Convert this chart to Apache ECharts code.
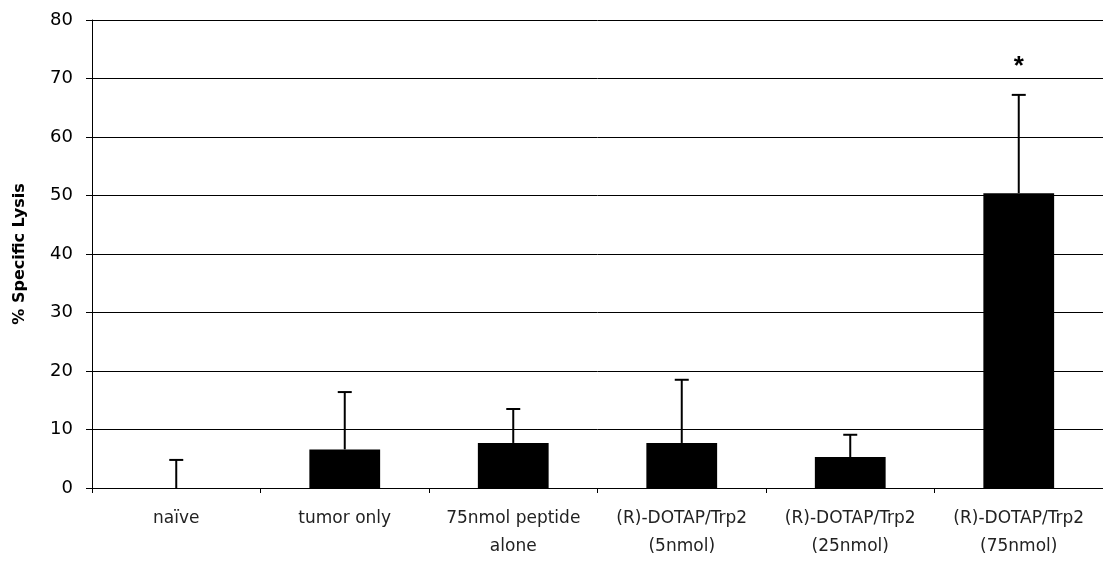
<!DOCTYPE html>
<html>
<head>
<meta charset="utf-8">
<script src="https://cdn.jsdelivr.net/npm/echarts@6/dist/echarts.min.js"></script>
<style>
html,body{margin:0;padding:0;background:#fff}
#chart{width:1103px;height:561px}
</style>
</head>
<body>
<div id="chart"></div>
<script>
var categories = ['naïve', 'tumor only', '75nmol peptide\nalone', '(R)-DOTAP/Trp2\n(5nmol)', '(R)-DOTAP/Trp2\n(25nmol)', '(R)-DOTAP/Trp2\n(75nmol)'];
var lysis = [0, 6.6, 7.7, 7.7, 5.3, 50.4];
var errorUp = [4.8, 9.8, 5.8, 10.8, 3.8, 16.8];
var marks = ['', '', '', '', '', '*'];
var yTicks = [0, 80, 10];

var chart = echarts.init(document.getElementById('chart'));

function renderError(params, api) {
    var i = api.value(0);
    var base = api.coord([i, api.value(1)]);
    var top = api.coord([i, api.value(2)]);
    var cap = 7;
    var children = [
        {type: 'line', shape: {x1: base[0], y1: base[1], x2: top[0], y2: top[1]}, style: {stroke: '#000', lineWidth: 2}},
        {type: 'line', shape: {x1: top[0] - cap, y1: top[1], x2: top[0] + cap, y2: top[1]}, style: {stroke: '#000', lineWidth: 2}}
    ];
    if (marks[i]) {
        children.push({type: 'text', x: top[0], y: top[1] - 28, style: {
            text: marks[i], fill: '#000', font: 'bold 26px "Liberation Sans", Arial',
            align: 'center', verticalAlign: 'middle'
        }});
    }
    return {type: 'group', children: children};
}

var option = {
    animation: false,
    grid: {left: 92, right: 0, top: 20, bottom: 73, outerBoundsMode: 'none', containLabel: false},
    xAxis: {
        type: 'category',
        data: categories,
        axisLine: {lineStyle: {color: '#000', width: 1}},
        axisTick: {show: true, length: 5, lineStyle: {color: '#000'}},
        axisLabel: {
            color: '#222', fontSize: 17, fontFamily: '"DejaVu Sans", Verdana',
            margin: 17, lineHeight: 28, interval: 0
        }
    },
    yAxis: {
        type: 'value',
        min: yTicks[0], max: yTicks[1], interval: yTicks[2],
        name: '% Specific Lysis',
        nameLocation: 'middle',
        nameGap: 64,
        nameTextStyle: {color: '#000', fontSize: 16, fontWeight: 'bold', fontFamily: '"DejaVu Sans", Verdana'},
        axisLine: {show: true, lineStyle: {color: '#000'}},
        axisTick: {show: true, inside: false, length: 6, lineStyle: {color: '#000'}},
        axisLabel: {color: '#000', fontSize: 18, fontFamily: '"DejaVu Sans", Verdana', margin: 19},
        splitLine: {show: true, lineStyle: {color: '#000', width: 1}}
    },
    series: [
        {
            type: 'bar',
            data: lysis,
            barWidth: '42%',
            itemStyle: {color: '#000'}
        },
        {
            type: 'custom',
            renderItem: renderError,
            encode: {x: 0, y: [1, 2]},
            data: lysis.map(function (v, i) { return [i, v, v + errorUp[i]]; }),
            z: 3
        }
    ]
};

chart.setOption(option);
</script>
</body>
</html>
